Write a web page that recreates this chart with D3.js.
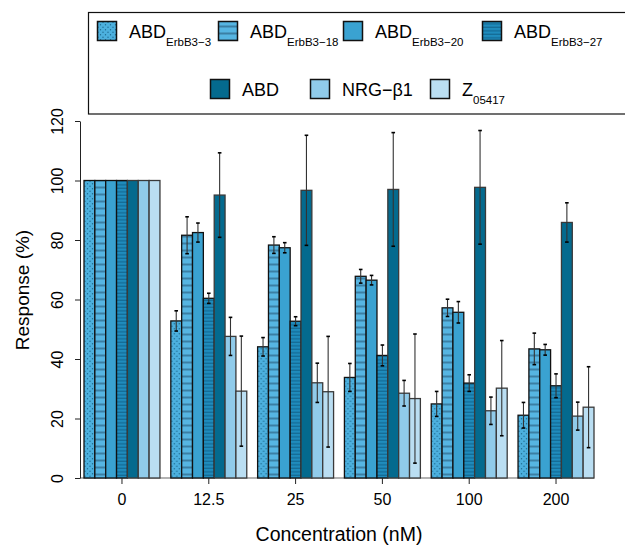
<!DOCTYPE html>
<html>
<head>
<meta charset="utf-8">
<script src="https://cdn.jsdelivr.net/npm/d3@7"></script>
<style>
    body { margin: 0; background: white; }
    svg { font-family: "Liberation Sans", Arial, sans-serif; }
</style>
</head>
<body>
<svg id="chart" width="625" height="545"></svg>
<script>
const concentrations = ["0", "12.5", "25", "50", "100", "200"];

const seriesNames = ["ABD", "ABD", "ABD", "ABD", "ABD", "NRG\u2212\u03b21", "Z"];
const seriesSubs = ["ErbB3\u22123", "ErbB3\u221218", "ErbB3\u221220", "ErbB3\u221227", "", "", "05417"];

const erbB3_3 = [100, 52.8, 44.1, 33.8, 24.9, 21.1];
const erbB3_18 = [100, 81.6, 78.3, 67.8, 57.2, 43.4];
const erbB3_20 = [100, 82.5, 77.4, 66.5, 55.7, 43.1];
const erbB3_27 = [100, 60.4, 52.7, 41.2, 31.9, 31.0];
const abd = [100, 95.1, 96.7, 97.0, 97.7, 85.9];
const nrg = [100, 47.6, 32.0, 28.5, 22.6, 20.8];
const z05417 = [100, 29.2, 29.0, 26.7, 30.2, 23.8];

const erbB3_3Err = [0, 3.4, 3.1, 4.7, 4.2, 4.3];
const erbB3_18Err = [0, 6.2, 2.8, 2.3, 2.9, 5.3];
const erbB3_20Err = [0, 3.2, 1.7, 1.6, 3.6, 1.8];
const erbB3_27Err = [0, 1.7, 1.5, 3.5, 2.8, 4.0];
const abdErr = [0, 14.2, 18.5, 19.1, 19.1, 6.6];
const nrgErr = [0, 6.4, 6.6, 4.3, 4.6, 4.7];
const z05417Err = [0, 18.5, 18.6, 21.7, 16.0, 13.6];

const yTicks = [0, 20, 40, 60, 80, 100, 120];

function drawChart() {
    const values = [erbB3_3, erbB3_18, erbB3_20, erbB3_27, abd, nrg, z05417];
    const errors = [erbB3_3Err, erbB3_18Err, erbB3_20Err, erbB3_27Err, abdErr, nrgErr, z05417Err];
    const fills = ["url(#dots)", "url(#hstripes)", "#3aa2d1", "url(#fine)", "#046a8e", "#90cbea", "#badef2"];
    const seriesIdx = d3.range(seriesNames.length);

    const svg = d3.select('#chart');

    //patterns
    const defs = svg.append('defs');
    const dots = defs.append('pattern')
        .attr('id', 'dots')
        .attr('patternUnits', 'userSpaceOnUse')
        .attr('width', 5).attr('height', 5);
    dots.append('rect').attr('width', 5).attr('height', 5).attr('fill', '#4cb0de');
    dots.append('circle').attr('cx', 1).attr('cy', 1.2).attr('r', 0.7).attr('fill', '#1d6a90');
    dots.append('circle').attr('cx', 3.5).attr('cy', 3.7).attr('r', 0.7).attr('fill', '#1d6a90');

    const hs = defs.append('pattern')
        .attr('id', 'hstripes')
        .attr('patternUnits', 'userSpaceOnUse')
        .attr('width', 6).attr('height', 7);
    hs.append('rect').attr('width', 6).attr('height', 7).attr('fill', '#56b5e2');
    hs.append('rect').attr('y', 4.5).attr('width', 6).attr('height', 2).attr('fill', '#3b7fa4');

    const fine = defs.append('pattern')
        .attr('id', 'fine')
        .attr('patternUnits', 'userSpaceOnUse')
        .attr('width', 6).attr('height', 3.5);
    fine.append('rect').attr('width', 6).attr('height', 3.5).attr('fill', '#1f8cbd');
    fine.append('rect').attr('y', 2.3).attr('width', 6).attr('height', 1).attr('fill', '#11628a');

    const yScale = d3.scaleLinear()
        .domain([0, 120])
        .range([478, 121]);

    const xScale = d3.scaleBand()
        .domain(concentrations)
        .range([84, 594])
        .paddingInner(0.125)
        .paddingOuter(0);

    const inner = d3.scaleBand()
        .domain(seriesIdx)
        .range([0, xScale.bandwidth()]);

    //base line
    svg.append('line')
        .attr('x1', 80).attr('x2', xScale.range()[1])
        .attr('y1', yScale(0)).attr('y2', yScale(0))
        .attr('stroke', '#666').attr('stroke-width', 1.2);

    //bars
    const groups = svg.selectAll('g.group')
        .data(concentrations)
        .enter()
        .append('g')
        .attr('class', 'group')
        .attr('transform', c => `translate(${xScale(c)}, 0)`);

    groups.selectAll('rect')
        .data((c, gi) => seriesIdx.map(s => ({ s: s, v: values[s][gi], e: errors[s][gi] })))
        .enter()
        .append('rect')
        .attr('x', d => inner(d.s))
        .attr('y', d => yScale(d.v))
        .attr('width', inner.bandwidth())
        .attr('height', d => yScale(0) - yScale(d.v))
        .attr('fill', d => fills[d.s])
        .attr('stroke', d => d.s >= 4 ? '#3a3a3a' : '#111')
        .attr('stroke-width', 1.3);

    //error bars
    const errG = groups.selectAll('g.err')
        .data((c, gi) => seriesIdx.map(s => ({ s: s, v: values[s][gi], e: errors[s][gi] })).filter(d => d.e > 0))
        .enter()
        .append('g')
        .attr('class', 'err');
    errG.append('line')
        .attr('x1', d => inner(d.s) + inner.bandwidth() / 2)
        .attr('x2', d => inner(d.s) + inner.bandwidth() / 2)
        .attr('y1', d => yScale(d.v + d.e))
        .attr('y2', d => yScale(d.v - d.e))
        .attr('stroke', '#333').attr('stroke-width', 1.1);
    [1, -1].forEach(sign => {
        errG.append('line')
            .attr('x1', d => inner(d.s) + inner.bandwidth() / 2 - 1.8)
            .attr('x2', d => inner(d.s) + inner.bandwidth() / 2 + 1.8)
            .attr('y1', d => yScale(d.v + sign * d.e))
            .attr('y2', d => yScale(d.v + sign * d.e))
            .attr('stroke', '#000').attr('stroke-width', 1.6);
    });

    //y axis
    const yAxis = d3.axisLeft(yScale)
        .tickValues(yTicks)
        .tickSize(5)
        .tickSizeOuter(0);
    const yAxisG = svg.append('g')
        .attr('transform', 'translate(80, 0)')
        .call(yAxis);
    yAxisG.select('.domain').attr('stroke', '#222');
    yAxisG.selectAll('.tick line').attr('stroke', '#222');
    yAxisG.selectAll('.tick text')
        .attr('font-size', 16)
        .attr('fill', '#000')
        .attr('x', 0).attr('dy', 0)
        .attr('text-anchor', 'middle')
        .attr('transform', 'translate(-23, 0) rotate(-90)')
        .attr('dominant-baseline', 'central');

    svg.append('text')
        .attr('transform', 'translate(22, 290) rotate(-90)')
        .attr('text-anchor', 'middle')
        .attr('dominant-baseline', 'central')
        .attr('font-size', 19)
        .attr('fill', '#000')
        .text('Response (%)');

    //x axis (ticks only)
    const xAxis = d3.axisBottom(xScale)
        .tickSize(6)
        .tickSizeOuter(0);
    const xAxisG = svg.append('g')
        .attr('transform', `translate(0, ${yScale(0)})`)
        .call(xAxis);
    xAxisG.select('.domain').remove();
    xAxisG.selectAll('.tick line').attr('stroke', '#222');
    xAxisG.selectAll('.tick text')
        .attr('font-size', 16)
        .attr('fill', '#000')
        .attr('y', 16);

    svg.append('text')
        .attr('x', 339).attr('y', 541)
        .attr('text-anchor', 'middle')
        .attr('font-size', 19.5)
        .attr('fill', '#000')
        .text('Concentration (nM)');

    //legend
    svg.append('rect')
        .attr('x', 88.5).attr('y', 12.5)
        .attr('width', 560).attr('height', 101.5)
        .attr('fill', 'white')
        .attr('stroke', '#111').attr('stroke-width', 1.2);

    const legendPos = [
        { x: 97, y: 21 }, { x: 218, y: 21 }, { x: 343, y: 21 }, { x: 482, y: 21 },
        { x: 210, y: 79 }, { x: 310, y: 79 }, { x: 430, y: 79 }
    ];
    const legend = svg.selectAll('g.legend')
        .data(seriesIdx)
        .enter()
        .append('g')
        .attr('class', 'legend')
        .attr('transform', s => `translate(${legendPos[s].x}, ${legendPos[s].y})`);
    legend.append('rect')
        .attr('x', 0.5).attr('y', 0.5)
        .attr('width', 19).attr('height', 19)
        .attr('fill', s => fills[s])
        .attr('stroke', '#111').attr('stroke-width', 1.5);
    const lt = legend.append('text')
        .attr('x', 32).attr('y', 16.5)
        .attr('font-size', 18)
        .attr('fill', '#000');
    lt.append('tspan').text(s => seriesNames[s]);
    lt.append('tspan')
        .attr('font-size', 11.5)
        .attr('dy', 8)
        .text(s => seriesSubs[s]);
}

drawChart();
</script>
</body>
</html>
